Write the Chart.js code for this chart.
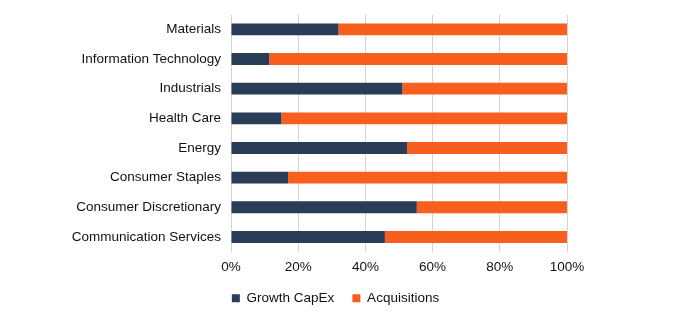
<!DOCTYPE html>
<html>
<head>
<meta charset="utf-8">
<script src="https://cdn.jsdelivr.net/npm/chart.js@4/dist/chart.umd.min.js"></script>
<style>
  html, body { margin: 0; padding: 0; background: #fff; }
  #wrap { width: 695px; height: 331px; }
</style>
</head>
<body>
<div id="wrap"><canvas id="grafico"></canvas></div>
<script>
// categorias e valores (% do total)
const setores = ['Materials', 'Information Technology', 'Industrials', 'Health Care', 'Energy', 'Consumer Staples', 'Consumer Discretionary', 'Communication Services'];
const growthCapex = [32, 11.4, 51, 15, 52.4, 17, 55.3, 45.8];
const aquisicoes = [68, 88.6, 49, 85, 47.6, 83, 44.7, 54.2];
const ticksX = [0, 20, 40, 60, 80, 100];

// desloca a legenda (centro ~333px e um pouco mais para cima)
const moveLegenda = {
    id: 'moveLegenda',
    afterLayout(chart) {
        const lg = chart.legend;
        lg.left += 52;
        lg.right += 52;
        lg.top -= 8.5;
        lg.bottom -= 8.5;
    }
};

document.addEventListener('DOMContentLoaded', function () {
    const ctx = document.getElementById('grafico').getContext('2d');
    Chart.defaults.font.family = '"Liberation Sans", Arial, sans-serif';
    Chart.defaults.color = '#111';

    new Chart(ctx, {
        type: 'bar',
        data: {
            labels: setores,
            datasets: [
                { label: 'Growth CapEx', data: growthCapex, backgroundColor: '#293d56' },
                { label: 'Acquisitions', data: aquisicoes, backgroundColor: '#f85f1e' }
            ]
        },
        options: {
            indexAxis: 'y',
            responsive: true,
            maintainAspectRatio: false,
            animation: false,
            datasets: { bar: { categoryPercentage: 1, barPercentage: 0.4 } },
            layout: { padding: { left: 0, right: 128, top: 14.5, bottom: 7.5 } },
            plugins: {
                legend: {
                    position: 'bottom',
                    labels: { boxWidth: 8, boxHeight: 8, font: { size: 13.5 }, padding: 18 }
                },
                tooltip: { enabled: false }
            },
            scales: {
                x: {
                    stacked: true,
                    min: 0, max: 100,
                    afterBuildTicks: function (axis) {
                        axis.ticks = ticksX.map(v => ({ value: v }));
                    },
                    ticks: { font: { size: 13.5 }, padding: 7, callback: v => v + '%' },
                    grid: { color: '#d4d4d4', drawTicks: false },
                    border: { display: false }
                },
                y: {
                    stacked: true,
                    afterFit: function (axis) {
                        axis.width = 231;
                        axis.paddingTop = 0;
                        axis.paddingBottom = 0;
                    },
                    ticks: { font: { size: 13.5 }, padding: 10 },
                    grid: { display: false, drawTicks: false },
                    border: { display: false }
                }
            }
        },
        plugins: [moveLegenda]
    });
});
</script>
</body>
</html>
